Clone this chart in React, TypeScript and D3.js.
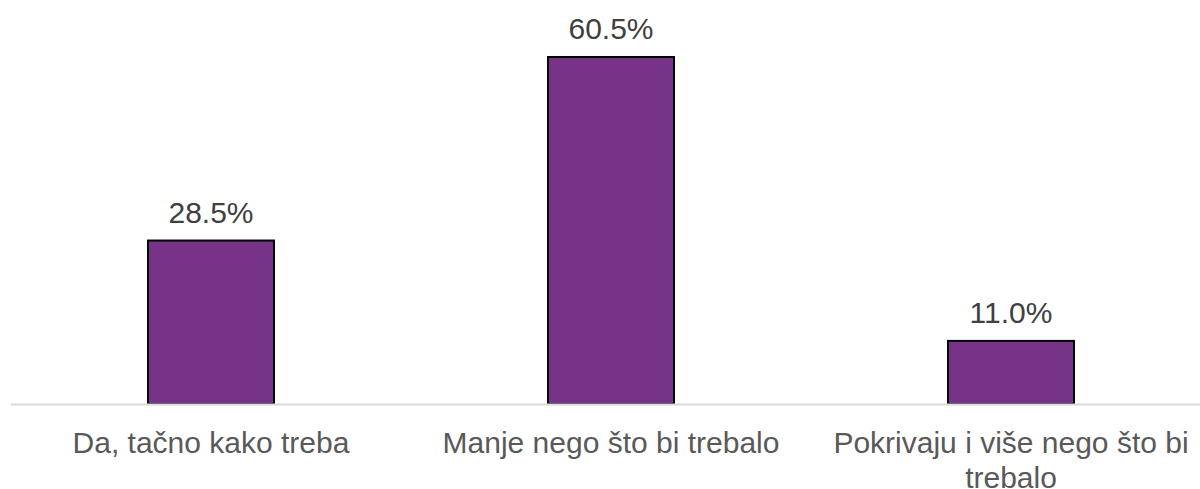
import React, { useEffect, useRef } from "react";
import * as d3 from "d3";

const categories = [
  "Da, tačno kako treba",
  "Manje nego što bi trebalo",
  "Pokrivaju i više nego što bi trebalo",
];
const values = [28.5, 60.5, 11.0];

const W = 1200;
const H = 489;

export default function App() {
  const ref = useRef<SVGSVGElement | null>(null);

  useEffect(() => {
    const svg = d3.select(ref.current);
    svg.selectAll("*").remove();

    const baseY = 404;
    const x = d3
      .scaleBand<string>()
      .domain(categories)
      .range([11, 1211])
      .paddingInner(0.685)
      .paddingOuter(0.3425);
    const y = d3.scaleLinear().domain([0, 70]).range([baseY, 2.5]);

    const data = categories.map((c, i) => ({ c, v: values[i] }));

    svg
      .append("g")
      .selectAll("rect")
      .data(data)
      .join("rect")
      .attr("x", (d) => x(d.c)!)
      .attr("y", (d) => y(d.v))
      .attr("width", x.bandwidth())
      .attr("height", (d) => baseY - y(d.v))
      .attr("fill", "#763387")
      .attr("stroke", "#000")
      .attr("stroke-width", 2);

    svg
      .append("line")
      .attr("x1", 11)
      .attr("x2", W)
      .attr("y1", baseY + 0.5)
      .attr("y2", baseY + 0.5)
      .attr("stroke", "#d9d9d9")
      .attr("stroke-width", 2);

    svg
      .append("g")
      .selectAll("text")
      .data(data)
      .join("text")
      .attr("x", (d) => x(d.c)! + x.bandwidth() / 2)
      .attr("y", (d) => y(d.v) - 18)
      .attr("text-anchor", "middle")
      .attr("font-family", "'Liberation Sans', Arial, sans-serif")
      .attr("font-size", 30)
      .attr("fill", "#404040")
      .text((d) => d.v.toFixed(1) + "%");

    const maxW = 380;
    const labels = svg
      .append("g")
      .selectAll("text")
      .data(categories)
      .join("text")
      .attr("x", (d) => x(d)! + x.bandwidth() / 2)
      .attr("y", 453)
      .attr("text-anchor", "middle")
      .attr("font-family", "'Liberation Sans', Arial, sans-serif")
      .attr("font-size", 30)
      .attr("fill", "#595959");

    labels.each(function (d) {
      const t = d3.select(this);
      const cx = +t.attr("x");
      const words = d.split(" ");
      let line: string[] = [];
      let tspan = t.append("tspan").attr("x", cx).attr("dy", 0);
      for (const w of words) {
        line.push(w);
        tspan.text(line.join(" "));
        if ((tspan.node() as SVGTSpanElement).getComputedTextLength() > maxW && line.length > 1) {
          line.pop();
          tspan.text(line.join(" "));
          line = [w];
          tspan = t.append("tspan").attr("x", cx).attr("dy", 35).text(w);
        }
      }
    });
  }, []);

  return (
    <svg
      ref={ref}
      width={W}
      height={H}
      style={{ position: "absolute", left: 0, top: 0, background: "#fff" }}
    />
  );
}
